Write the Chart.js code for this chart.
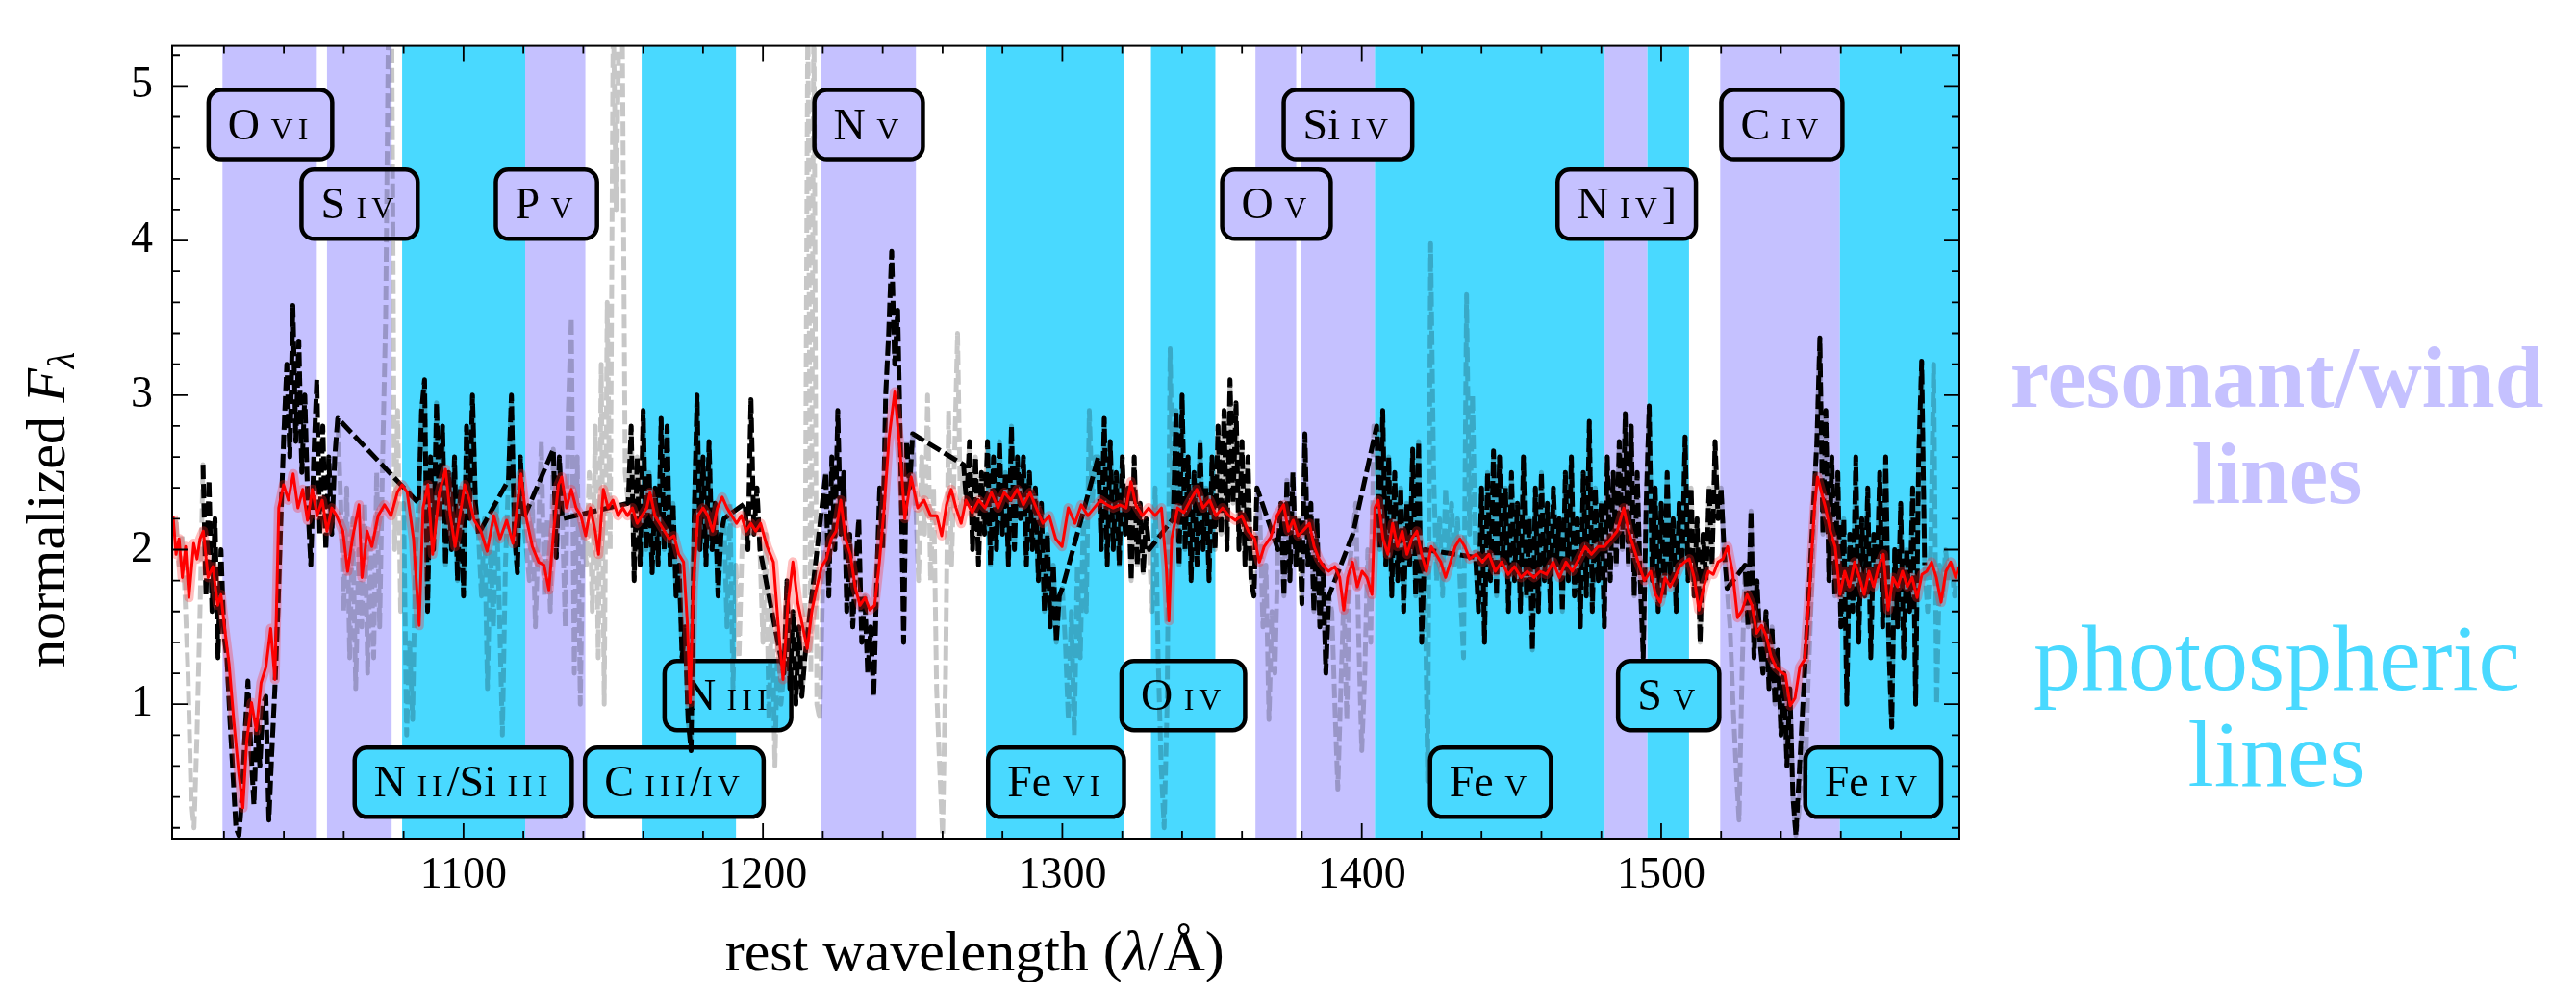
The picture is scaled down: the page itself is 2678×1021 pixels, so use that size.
<!DOCTYPE html>
<html>
<head>
<meta charset="utf-8">
<script src="https://cdn.jsdelivr.net/npm/chart.js@4.4.1/dist/chart.umd.min.js"></script>
<style>
  html, body { margin: 0; padding: 0; background: #fff; }
  #wrap { width: 2678px; height: 1021px; }
</style>
</head>
<body>
<div id="wrap"><canvas id="spec"></canvas></div>
<script>
// ── Data ─────────────────────────────────────────────────────────────────────

// observed spectrum, 1 Å bins from 1003 Å
const FLUX_START = 1003;
const flux = [
  2.1, 2.2, 1.9, 2.1, 1.7, 1.2, 0.4, 0.2, 0.8, 1.6,
  2.55, 1.7, 2.45, 1.6, 2.2, 1.3, 2.0, 1.45, 1.3, 0.9,
  0.55, 0.2, 0.15, 0.4, 0.8, 1.15, 0.7, 0.35, 0.9, 0.6,
  1.0, 1.05, 0.25, 0.7, 1.1, 1.6, 2.2, 2.75, 3.2, 2.6,
  3.58, 2.7, 3.35, 2.5, 3.0, 2.3, 1.9, 2.6, 3.1, 2.1,
  2.8, 2.0, 2.6, 2.1, 2.6, 2.85, 2.3, 1.6, 2.4, 1.3,
  2.2, 1.1, 2.0, 1.5, 2.3, 1.2, 2.1, 1.3, 2.5, 1.5,
  2.6, 3.5, 5.6, 5.6, 2.0, 2.9, 1.6, 2.3, 0.8, 1.4,
  0.9, 2.0, 2.3, 2.9, 3.1, 1.6, 2.6, 2.0, 2.95, 2.2,
  2.8, 1.9, 2.5, 2.0, 2.6, 1.8, 2.4, 1.7, 2.8, 2.2,
  3.0, 2.3, 2.1, 1.7, 2.2, 1.1, 2.0, 1.5, 2.3, 1.6,
  0.8, 1.9, 2.45, 3.0, 2.1, 1.85, 2.6, 2.2, 2.0, 1.8,
  2.3, 1.5, 2.1, 2.7, 1.7, 2.2, 1.6, 2.65, 1.95, 2.6,
  2.2, 1.5, 2.9, 3.5, 1.2, 2.6, 1.0, 2.2, 1.9, 2.5,
  1.6, 2.8, 1.3, 3.2, 1.0, 3.6, 2.0, 5.5, 4.2, 5.5,
  5.5, 2.5, 2.3, 2.8, 1.8, 2.6, 1.9, 2.9, 2.0, 2.5,
  1.85, 2.4, 1.9, 2.85, 2.0, 2.8, 1.9, 2.3, 1.7, 1.9,
  1.3, 1.5, 0.9, 0.7, 2.2, 3.0, 2.0, 2.6, 1.9, 2.7,
  2.0, 2.3, 1.7, 2.1, 2.2, 1.5, 2.3, 1.1, 1.9, 1.3,
  2.0, 2.3, 2.0, 2.97, 2.1, 2.4, 2.0, 1.4, 2.1, 0.9,
  1.7, 0.6, 1.5, 1.0, 1.2, 1.8, 1.1, 1.6, 1.0, 1.5,
  1.05, 1.3, 5.6, 1.2, 5.6, 1.0, 0.9, 1.8, 2.5, 1.7,
  2.6, 2.0, 2.9, 2.1, 2.5, 1.6, 2.1, 1.5, 1.9, 2.2,
  1.4, 1.7, 1.2, 1.5, 1.05, 1.8, 2.4, 2.0, 3.0, 3.4,
  3.93, 3.2, 3.55, 2.6, 1.4, 2.7, 2.4, 2.75, 2.3, 1.8,
  2.6, 2.1, 3.0, 1.8, 2.4, 1.1, 0.6, 0.15, 1.2, 2.9,
  1.9, 2.6, 3.4, 2.2, 2.55, 2.3, 2.7, 2.0, 2.6, 1.9,
  2.5, 2.1, 2.7, 1.9, 2.6, 2.0, 2.7, 2.1, 2.5, 1.9,
  2.8, 2.0, 2.6, 2.2, 2.6, 1.9, 2.5, 2.0, 2.4, 1.8,
  2.3, 1.6, 2.1, 1.5, 1.9, 1.4, 1.7, 1.75, 1.4, 0.9,
  1.6, 0.8, 1.9, 1.3, 2.2, 1.6, 2.9, 2.3, 2.6, 2.6,
  2.0, 2.85, 1.9, 2.7, 2.0, 2.5, 1.9, 2.6, 2.1, 2.4,
  1.8, 2.6, 1.9, 2.3, 1.85, 2.2, 2.0, 1.6, 2.4, 1.3,
  0.6, 0.2, 1.0, 3.3, 2.2, 2.9, 1.9, 3.0, 2.0, 2.6,
  1.8, 2.5, 1.9, 2.7, 2.0, 2.4, 1.8, 2.6, 2.0, 2.8,
  2.1, 2.9, 2.0, 3.1, 2.3, 2.95, 2.0, 2.7, 1.9, 2.6,
  1.8, 1.7, 2.4, 2.2, 1.5, 1.9, 0.9, 1.6, 1.2, 2.0,
  2.3, 1.7, 2.45, 1.8, 2.5, 1.9, 2.2, 1.65, 2.75, 1.9,
  2.3, 1.6, 2.2, 1.5, 1.9, 1.2, 1.7, 1.6, 1.0, 0.45,
  1.1, 1.7, 0.9, 1.9, 2.1, 2.3, 1.4, 0.7, 1.2, 2.0,
  1.4, 2.8, 2.8, 2.0, 2.9, 1.9, 2.6, 1.7, 2.5, 1.8,
  2.4, 1.6, 2.3, 1.9, 2.65, 1.7, 2.7, 1.4, 2.0, 0.5,
  3.98, 2.5, 1.8, 2.2, 1.7, 2.4, 2.0, 2.3, 1.9, 2.2,
  1.7, 1.3, 3.65, 2.1, 3.0, 1.95, 1.6, 2.4, 1.4, 2.5,
  1.8, 2.64, 1.7, 2.6, 1.9, 2.4, 1.6, 2.5, 1.8, 2.3,
  1.6, 2.6, 1.7, 2.2, 1.35, 2.4, 1.6, 2.5, 1.8, 2.3,
  1.6, 2.4, 1.9, 2.2, 1.6, 2.5, 1.8, 2.6, 1.7, 2.2,
  1.5, 2.5, 1.7, 2.83, 1.6, 2.4, 1.8, 2.3, 1.5, 2.6,
  1.8, 2.5, 1.9, 2.7, 2.0, 2.88, 1.9, 2.8, 1.7, 2.5,
  1.8, 1.3, 2.3, 2.93, 1.8, 2.4, 1.6, 2.3, 1.7, 2.5,
  1.8, 2.2, 1.6, 2.3, 1.9, 2.73, 1.8, 2.4, 1.7, 2.2,
  1.4, 2.1, 1.8, 2.4, 1.9, 2.7, 2.2, 2.4, 2.0, 1.75,
  1.5, 1.0, 0.6, 0.25, 1.2, 1.9, 1.5, 2.25, 1.3, 1.8,
  1.4, 1.2, 1.6, 1.1, 1.5, 1.0, 1.35, 0.8, 1.2, 0.6,
  1.1, 0.4, 0.15, 0.3, 0.8, 0.4, 1.1, 1.6, 2.2, 2.7,
  3.37, 2.1, 2.9, 1.8, 2.6, 1.7, 2.5, 1.5, 2.2, 1.0,
  2.1, 1.6, 2.6, 1.4, 2.2, 1.7, 2.4, 1.3, 2.1, 1.8,
  2.5, 1.5, 2.6, 1.4, 0.85, 2.0, 1.5, 2.3, 1.3, 2.0,
  1.6, 2.4, 1.0, 2.6, 3.22, 1.9, 1.6, 2.0, 3.2, 1.0,
  1.9, 1.7, 2.0, 1.8, 1.9, 1.7, 1.9
];

// windows left out of the fit: drawn in grey only
const masked = [
  [1002, 1012.5], [1058.5, 1084.5], [1105.5, 1114.5], [1120.5, 1129.5],
  [1133.5, 1154.5], [1187.5, 1193.5], [1199.5, 1206.5], [1214.5, 1220.5],
  [1250.5, 1266.5], [1300.5, 1311.5], [1329.5, 1336.5], [1365.5, 1371.5],
  [1389.5, 1396.5], [1397.5, 1404.5], [1421.5, 1437.5], [1522.5, 1527.5],
  [1545.5, 1551.5], [1588.5, 1600]
];

// best-fit model
const modelWave = [
  1003, 1004, 1005, 1006.1, 1007.2, 1008.3, 1009.9, 1011, 1012, 1013.1,
  1014.7, 1016.3, 1017.9, 1019, 1020.1, 1021.7, 1023.3, 1024.9, 1026.3, 1027.6,
  1029.2, 1030.8, 1032.4, 1034, 1035.6, 1037, 1038.3, 1039.9, 1041.5, 1043.1,
  1044.7, 1046.3, 1047.9, 1049.5, 1051.1, 1052.8, 1054.4, 1056, 1057.6, 1059.7,
  1061.3, 1062.9, 1065.1, 1066.1, 1067.8, 1069.4, 1071.5, 1073.6, 1075.8, 1077.9,
  1079.5, 1081.2, 1083.3, 1085.2, 1086.5, 1088.1, 1089.7, 1091.9, 1094, 1095.6,
  1097.2, 1098.8, 1100.4, 1102, 1103.6, 1105.8, 1107.9, 1110.1, 1112.2, 1114.4,
  1116.5, 1119.2, 1120.8, 1123, 1125.1, 1126.9, 1128.5, 1130.1, 1131.7, 1132.8,
  1134.4, 1136, 1137.6, 1139.2, 1140.8, 1142.4, 1144, 1145.1, 1146.7, 1148.3,
  1149.9, 1151.6, 1153.2, 1154.8, 1156.4, 1158, 1159.6, 1161.2, 1162.3, 1163.9,
  1165.5, 1167.1, 1168.7, 1170.3, 1171.9, 1173.5, 1174.8, 1175.7, 1176.7, 1178.3,
  1180, 1181.6, 1183.2, 1184.8, 1186.4, 1188, 1189.6, 1191.2, 1192.8, 1194.4,
  1196, 1197.6, 1199.2, 1201.4, 1203.5, 1205.1, 1206.7, 1208.3, 1210, 1211.6,
  1213.2, 1214.8, 1216.4, 1218, 1219.6, 1221.2, 1222.8, 1224.4, 1226, 1227.6,
  1229.2, 1230.8, 1232.4, 1234.1, 1235.7, 1237.3, 1238.9, 1240.5, 1242.1, 1244,
  1245.8, 1247.4, 1249.5, 1251.7, 1253.8, 1256, 1258.1, 1259.7, 1261.3, 1262.9,
  1264.5, 1266.2, 1267.8, 1269.9, 1272.1, 1274.2, 1276.3, 1278.5, 1280.6, 1282.8,
  1284.9, 1287, 1289.2, 1291.3, 1293.5, 1295.6, 1297.8, 1299.9, 1302, 1304.2,
  1306.3, 1308.5, 1310.6, 1312.8, 1314.9, 1317, 1319.2, 1321.3, 1322.9, 1324.5,
  1326.7, 1328.8, 1331, 1333.1, 1334.7, 1335.6, 1336.5, 1338.5, 1340.6, 1342.8,
  1344.9, 1347, 1349.2, 1351.3, 1353.5, 1355.6, 1357.8, 1359.9, 1362.1, 1364.2,
  1365.8, 1367.4, 1369.6, 1371.7, 1373.9, 1375.5, 1377.1, 1378.7, 1380.3, 1382.5,
  1384.1, 1385.7, 1387.3, 1388.9, 1391, 1392.6, 1394, 1395.3, 1396.9, 1398.5,
  1400.1, 1401.7, 1403.4, 1404.4, 1405.5, 1407.1, 1408.7, 1410.3, 1411.9, 1413.5,
  1415.1, 1416.7, 1418.4, 1420, 1421.6, 1423.2, 1424.8, 1426.4, 1428, 1429.6,
  1431.2, 1432.8, 1434.4, 1436, 1438.2, 1440.3, 1442.5, 1444.6, 1446.7, 1448.9,
  1451, 1453.2, 1455.3, 1457.5, 1459.6, 1461.7, 1463.9, 1466, 1468.2, 1470.3,
  1472.5, 1474.6, 1476.7, 1478.9, 1481, 1483.2, 1485.3, 1487.5, 1489.1, 1490.7,
  1492.8, 1494.4, 1496.5, 1498.1, 1499.7, 1501.3, 1503, 1504.6, 1506.2, 1507.8,
  1509.4, 1511, 1512.6, 1514.2, 1515.8, 1517.4, 1519, 1520.6, 1522.2, 1523.8,
  1525.5, 1527.1, 1528.7, 1530.3, 1531.9, 1533.5, 1535.1, 1536.7, 1538.3, 1539.9,
  1541.5, 1543.1, 1544.7, 1546.3, 1547.9, 1549.6, 1551.2, 1552.2, 1553.3, 1554.9,
  1556.5, 1558.1, 1559.7, 1561.3, 1562.9, 1564.6, 1566.2, 1567.8, 1569.4, 1571,
  1572.6, 1574.2, 1575.8, 1577.4, 1579, 1580.6, 1582.2, 1583.8, 1585.5, 1587.1,
  1588.7, 1590.3, 1591.9, 1593.5, 1595.1, 1596.7, 1598.3, 1599.4
];
const modelFlux = [
  2.22, 1.97, 2.07, 1.82, 2.02, 1.69, 2.04, 1.94, 2.07, 2.12,
  1.82, 1.89, 1.64, 1.71, 1.51, 1.26, 0.89, 0.56, 0.33, 0.76,
  1.01, 0.83, 1.14, 1.24, 1.49, 1.16, 2.27, 2.42, 2.32, 2.49,
  2.27, 2.39, 2.19, 2.39, 2.22, 2.32, 2.12, 2.27, 2.22, 2.12,
  1.86, 2.07, 2.29, 1.82, 2.12, 2.02, 2.22, 2.29, 2.22, 2.37,
  2.42, 2.37, 2.07, 1.51, 2.27, 2.42, 1.97, 2.37, 2.52, 2.22,
  2.02, 2.22, 2.42, 2.32, 2.19, 2.12, 1.99, 2.22, 2.07, 2.19,
  2.04, 2.49, 2.22, 2.02, 1.92, 1.9, 1.74, 2.12, 2.42, 2.47,
  2.27, 2.39, 2.27, 2.22, 2.09, 2.27, 2.12, 1.97, 2.39, 2.27,
  2.32, 2.22, 2.27, 2.22, 2.27, 2.17, 2.22, 2.27, 2.37, 2.22,
  2.17, 2.12, 2.07, 2.09, 1.97, 1.92, 1.51, 1.01, 1.76, 2.22,
  2.27, 2.22, 2.12, 2.27, 2.34, 2.27, 2.22, 2.17, 2.22, 2.12,
  2.17, 2.12, 2.17, 2.02, 1.92, 1.51, 1.16, 1.64, 1.92, 1.66,
  1.51, 1.36, 1.61, 1.76, 1.89, 1.94, 2.07, 2.12, 2.32, 2.07,
  1.97, 1.76, 1.64, 1.69, 1.61, 1.64, 1.92, 2.27, 2.72, 3.02,
  2.64, 2.2, 2.47, 2.27, 2.32, 2.22, 2.22, 2.09, 2.29, 2.39,
  2.27, 2.17, 2.32, 2.24, 2.32, 2.27, 2.37, 2.27, 2.37, 2.32,
  2.39, 2.29, 2.37, 2.27, 2.17, 2.22, 2.07, 2.02, 2.27, 2.17,
  2.29, 2.22, 2.27, 2.32, 2.29, 2.27, 2.29, 2.27, 2.44, 2.29,
  2.22, 2.27, 2.22, 2.27, 1.89, 1.54, 2.07, 2.27, 2.24, 2.32,
  2.39, 2.27, 2.32, 2.22, 2.27, 2.22, 2.19, 2.22, 2.12, 2.07,
  1.92, 2.02, 2.08, 2.22, 2.29, 2.12, 2.19, 2.09, 2.12, 2.17,
  2.02, 1.94, 1.89, 1.86, 1.89, 1.82, 1.61, 1.82, 1.92, 1.76,
  1.86, 1.82, 1.71, 2.27, 2.32, 2.07, 1.97, 2.17, 2.02, 2.12,
  1.97, 2.07, 2.12, 1.97, 1.86, 2.02, 1.97, 1.92, 1.82, 1.92,
  2.02, 2.07, 2.02, 1.94, 1.97, 1.92, 1.97, 1.86, 1.92, 1.84,
  1.89, 1.82, 1.86, 1.82, 1.86, 1.84, 1.92, 1.82, 1.92, 1.86,
  1.94, 2.02, 1.97, 2.02, 2.02, 2.07, 2.12, 2.27, 2.12, 2.02,
  1.89, 1.8, 1.86, 1.71, 1.66, 1.82, 1.76, 1.82, 1.89, 1.92,
  1.94, 1.82, 1.61, 1.76, 1.86, 1.84, 1.92, 1.94, 2.02, 1.86,
  1.56, 1.61, 1.71, 1.64, 1.46, 1.51, 1.44, 1.31, 1.24, 1.21,
  1.19, 0.99, 1.04, 1.24, 1.29, 1.76, 2.27, 2.47, 2.39, 2.27,
  2.12, 2.02, 1.71, 1.86, 1.76, 1.92, 1.82, 1.71, 1.86, 1.76,
  1.89, 1.97, 1.61, 1.82, 1.76, 1.86, 1.76, 1.82, 1.69, 1.84,
  1.86, 1.92, 1.82, 1.66, 1.86, 1.92, 1.82, 1.89
];

// shaded line windows (Å)
const windBands = [
  [1019.5, 1051], [1054.4, 1076], [1120.6, 1140.7], [1219.5, 1251.1],
  [1364.5, 1378.1], [1379.6, 1404.4], [1481.1, 1495.4], [1519.7, 1559.7]
];
const photBands = [
  [1079.5, 1120.6], [1159.5, 1191], [1274.5, 1320.7], [1329.6, 1351.1],
  [1404.4, 1481.1], [1495.4, 1509.3], [1559.7, 1600]
];

// line labels: {..} is the ionisation stage, set in small caps
const lineNames = [
  "O {VI}", "S {IV}", "P {V}", "N {V}", "O {V}", "Si {IV}", "N {IV}]", "C {IV}",
  "N {III}", "O {IV}", "S {V}",
  "N {II}/Si {III}", "C {III}/{IV}", "Fe {VI}", "Fe {V}", "Fe {IV}"
];
const lineWave = [
  1035.5, 1065.3, 1127.7, 1235.3, 1371.5, 1395.4, 1488.5, 1540.3,
  1188.3, 1340.4, 1502.5,
  1099.9, 1170.4, 1297.9, 1443, 1570.8
];
const lineLevel = [
  4.75, 4.235, 4.235, 4.75, 4.235, 4.75, 4.235, 4.75,
  1.056, 1.056, 1.056,
  0.495, 0.495, 0.495, 0.495, 0.495
];
const lineKind = [
  "wind", "wind", "wind", "wind", "wind", "wind", "wind", "wind",
  "phot", "phot", "phot",
  "phot", "phot", "phot", "phot", "phot"
];

// axis ticks
const xTickValues = [1100, 1200, 1300, 1400, 1500];
const yTickValues = [1, 2, 3, 4, 5];

// ── Style ────────────────────────────────────────────────────────────────────

const WIND = "#c5c1ff";
const PHOT = "#49d9ff";
const SERIF = "'Liberation Serif', 'Times New Roman', serif";
const X_MINOR = 20;
const Y_MINOR = 0.2;

// ── Series ───────────────────────────────────────────────────────────────────

const inMask = w => masked.some(([a, b]) => w > a && w < b);
const fullPts = flux.map((f, i) => ({ x: FLUX_START + i, y: f }));
const fitPts = fullPts.filter(p => !inMask(p.x));
const modelPts = modelWave.map((w, i) => ({ x: w, y: modelFlux[i] }));

// ── Drawing helpers ──────────────────────────────────────────────────────────

function labelParts(str) {
  return str.split(/(\{[^}]*\})/).filter(Boolean).map(s =>
    s[0] === "{" ? { t: s.slice(1, -1), sc: true } : { t: s, sc: false });
}

function setLabelFont(ctx, sc) {
  ctx.font = sc ? `32px ${SERIF}` : `46px ${SERIF}`;
  ctx.letterSpacing = sc ? "5px" : "0px";
}

function roundBox(ctx, x, y, w, h, r) {
  ctx.beginPath();
  ctx.moveTo(x + r, y);
  ctx.arcTo(x + w, y, x + w, y + h, r);
  ctx.arcTo(x + w, y + h, x, y + h, r);
  ctx.arcTo(x, y + h, x, y, r);
  ctx.arcTo(x, y, x + w, y, r);
  ctx.closePath();
}

function drawSegments(ctx, segs, x, y) {
  // segs: [text, font, dy]
  let cx = x;
  for (const [t, font, dy] of segs) {
    ctx.font = font;
    ctx.fillText(t, cx, y + (dy || 0));
    cx += ctx.measureText(t).width;
  }
}

function segmentsWidth(ctx, segs) {
  let w = 0;
  for (const [t, font] of segs) { ctx.font = font; w += ctx.measureText(t).width; }
  return w;
}

// ── Plugins ──────────────────────────────────────────────────────────────────

const backdrop = {
  id: "backdrop",
  beforeDatasetsDraw(chart) {
    const { ctx, chartArea: a, scales: { x, y } } = chart;
    ctx.save();
    ctx.beginPath();
    ctx.rect(a.left, a.top, a.width, a.height);
    ctx.clip();
    const band = (list, color) => {
      ctx.fillStyle = color;
      for (const [lo, hi] of list) {
        const x0 = x.getPixelForValue(lo), x1 = x.getPixelForValue(hi);
        ctx.fillRect(x0, a.top, x1 - x0, a.height);
      }
    };
    band(windBands, WIND);
    band(photBands, PHOT);
    ctx.restore();

    // label boxes sit under the spectra
    ctx.save();
    ctx.textBaseline = "alphabetic";
    ctx.textAlign = "left";
    lineNames.forEach((name, i) => {
      const parts = labelParts(name);
      let tw = 0;
      for (const p of parts) { setLabelFont(ctx, p.sc); tw += ctx.measureText(p.t).width; }
      const cx = x.getPixelForValue(lineWave[i]);
      const cy = y.getPixelForValue(lineLevel[i]);
      const w = tw + 40, h = 72;
      roundBox(ctx, cx - w / 2, cy - h / 2, w, h, 13);
      ctx.fillStyle = lineKind[i] === "wind" ? WIND : PHOT;
      ctx.fill();
      ctx.lineWidth = 4.5;
      ctx.strokeStyle = "#000";
      ctx.stroke();
      ctx.fillStyle = "#000";
      let px = cx - tw / 2;
      for (const p of parts) {
        setLabelFont(ctx, p.sc);
        ctx.fillText(p.t, px, cy + 15);
        px += ctx.measureText(p.t).width;
      }
      ctx.letterSpacing = "0px";
    });
    ctx.restore();
  },
  afterDraw(chart) {
    const { ctx, chartArea: a, scales: { x, y } } = chart;
    ctx.save();
    ctx.strokeStyle = "#000";
    ctx.lineWidth = 1.8;
    ctx.beginPath();
    for (let k = Math.ceil(x.min / X_MINOR); k * X_MINOR <= x.max; k++) {
      const v = k * X_MINOR;
      const px = x.getPixelForValue(v);
      const len = v % 100 === 0 ? 16 : 8;
      ctx.moveTo(px, a.bottom); ctx.lineTo(px, a.bottom - len);
      ctx.moveTo(px, a.top); ctx.lineTo(px, a.top + len);
    }
    for (let k = Math.ceil(y.min / Y_MINOR); k * Y_MINOR <= y.max + 1e-9; k++) {
      const py = y.getPixelForValue(k * Y_MINOR);
      const len = k % 5 === 0 ? 16 : 8;
      ctx.moveTo(a.left, py); ctx.lineTo(a.left + len, py);
      ctx.moveTo(a.right, py); ctx.lineTo(a.right - len, py);
    }
    ctx.stroke();
    ctx.lineWidth = 2;
    ctx.strokeRect(a.left, a.top, a.width, a.height);

    // axis titles
    ctx.fillStyle = "#000";
    ctx.textAlign = "left";
    ctx.textBaseline = "alphabetic";
    const xt = [
      ["rest wavelength (", `60px ${SERIF}`],
      ["λ", `italic 60px ${SERIF}`],
      ["/Å)", `60px ${SERIF}`]
    ];
    const xcx = a.left + 0.449 * a.width;
    drawSegments(ctx, xt, xcx - segmentsWidth(ctx, xt) / 2, 1009);

    const yt = [
      ["normalized ", `58px ${SERIF}`],
      ["F", `italic 58px ${SERIF}`],
      ["λ", `italic 40px ${SERIF}`, 10]
    ];
    ctx.save();
    ctx.translate(67, a.top + 0.585 * a.height);
    ctx.rotate(-Math.PI / 2);
    drawSegments(ctx, yt, -segmentsWidth(ctx, yt) / 2, 0);
    ctx.restore();

    // key to the shading
    const kx = a.right + 330;
    ctx.textAlign = "center";
    ctx.fillStyle = WIND;
    ctx.font = `bold 91px ${SERIF}`;
    ctx.fillText("resonant/wind", kx, 423);
    ctx.fillText("lines", kx, 523);
    ctx.fillStyle = PHOT;
    ctx.font = `98px ${SERIF}`;
    ctx.fillText("photospheric", kx, 717);
    ctx.fillText("lines", kx, 817);
    ctx.restore();
  }
};

// ── Chart ────────────────────────────────────────────────────────────────────

Chart.defaults.color = "#000";
Chart.defaults.font.family = SERIF;

const fixedTicks = values => scale => {
  scale.ticks = values.map(v => ({ value: v }));
};

new Chart(document.getElementById("spec"), {
  type: "line",
  data: {
    datasets: [
      { data: modelPts, borderColor: "#ff0000", borderWidth: 3, order: 0 },
      { data: modelPts, borderColor: "rgba(255, 40, 40, 0.3)", borderWidth: 10, order: 1 },
      { data: fitPts, borderColor: "#000", borderWidth: 5, borderDash: [15, 5], order: 2 },
      { data: fullPts, borderColor: "rgba(0, 0, 0, 0.22)", borderWidth: 5, borderDash: [15, 5], order: 3 }
    ]
  },
  options: {
    responsive: true,
    maintainAspectRatio: false,
    devicePixelRatio: 1,
    animation: false,
    layout: { padding: { top: 14, right: 641, left: 0, bottom: 0 } },
    elements: {
      point: { radius: 0, hitRadius: 0, hoverRadius: 0 },
      line: { tension: 0, borderJoinStyle: "round", borderCapStyle: "butt", fill: false }
    },
    plugins: { legend: { display: false }, tooltip: { enabled: false } },
    events: [],
    scales: {
      x: {
        type: "linear",
        min: 1002.7,
        max: 1599.6,
        afterBuildTicks: fixedTicks(xTickValues),
        afterFit: s => { s.height = 149; },
        grid: { display: false, drawTicks: false },
        border: { display: false },
        ticks: {
          autoSkip: false,
          maxRotation: 0,
          minRotation: 0,
          padding: 11,
          font: { size: 46, family: SERIF },
          callback: v => String(v)
        }
      },
      y: {
        type: "linear",
        min: 0.13,
        max: 5.26,
        afterBuildTicks: fixedTicks(yTickValues),
        afterFit: s => { s.width = 179; },
        grid: { display: false, drawTicks: false },
        border: { display: false },
        ticks: {
          autoSkip: false,
          padding: 20,
          font: { size: 46, family: SERIF },
          callback: v => String(v)
        }
      }
    }
  },
  plugins: [backdrop]
});
</script>
</body>
</html>
